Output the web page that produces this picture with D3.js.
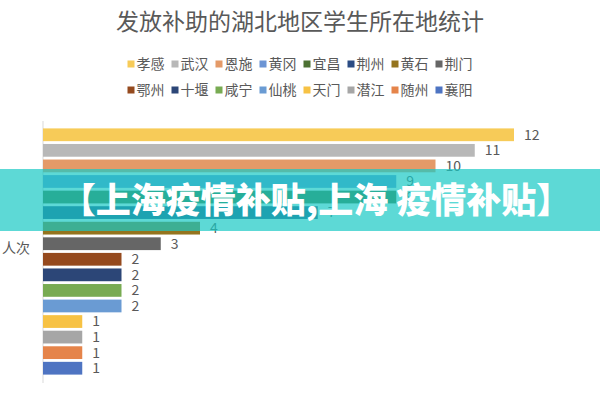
<!DOCTYPE html>
<html>
<head>
<meta charset="utf-8">
<script src="https://cdn.jsdelivr.net/npm/d3@7"></script>
<style>
  body { margin: 0; background: #fff; }
  text { font-family: "Noto Sans CJK SC", "Noto Sans", sans-serif; }
</style>
</head>
<body>
<script>
// 数据
const cities = ["孝感", "武汉", "恩施", "黄冈", "宜昌", "荆州", "黄石", "荆门",
                "鄂州", "十堰", "咸宁", "仙桃", "天门", "潜江", "随州", "襄阳"]
const counts = [12, 11, 10, 9, 9, 7, 4, 3, 2, 2, 2, 2, 1, 1, 1, 1]
const colors = ["#f7cb58", "#b8b8b8", "#e49a68", "#6c94d4", "#4c7133", "#2b4c84", "#94741e", "#666666",
                "#954a1e", "#2c4677", "#78ab52", "#6a9bd3", "#f7c244", "#a6a6a6", "#e5844a", "#4e74c2"]
const title = "发放补助的湖北地区学生所在地统计"
const yLabel = "人次"
const banner = "【上海疫情补贴,上海 疫情补贴】"

const width = 600, height = 400

let svg = d3.select("body")
    .append("svg")
    .attr("width", width)
    .attr("height", height)

// 标题
svg.append("text")
    .attr("x", 300)
    .attr("y", 30)
    .attr("text-anchor", "middle")
    .attr("font-size", 23)
    .attr("fill", "#595959")
    .text(title)

// 图例, 两行每行8个
let itemW = 44
let legend = svg.append("g")
legend.selectAll("g")
    .data(cities)
    .enter()
    .append("g")
    .attr("transform", (d, i) => {
        let row = Math.floor(i / 8), col = i % 8
        let x0 = 300 - (8 * itemW - 7) / 2
        return "translate(" + (x0 + col * itemW) + "," + (64 + row * 26) + ")"
    })
    .each(function (d, i) {
        let g = d3.select(this)
        g.append("rect")
            .attr("x", 0).attr("y", -3.5)
            .attr("width", 7).attr("height", 7)
            .attr("fill", colors[i])
        g.append("text")
            .attr("x", 9)
            .attr("dy", "0.35em")
            .attr("font-size", 14)
            .attr("fill", "#595959")
            .text(d)
    })

// 坐标
let x = d3.scaleLinear()
    .domain([0, 12])
    .range([43, 514])

let y = d3.scaleBand()
    .domain(cities)
    .range([127, 376])
    .paddingInner(0.18)
    .paddingOuter(0.09)

svg.append("line")
    .attr("x1", x(0)).attr("x2", x(0))
    .attr("y1", 121).attr("y2", 383)
    .attr("stroke", "#d9d9d9")

svg.append("text")
    .attr("x", 2)
    .attr("y", 248)
    .attr("dy", "0.35em")
    .attr("font-size", 14)
    .attr("fill", "#595959")
    .text(yLabel)

// 柱子
svg.append("g")
    .selectAll("rect")
    .data(cities)
    .enter()
    .append("rect")
    .attr("x", x(0))
    .attr("y", d => y(d))
    .attr("width", (d, i) => x(counts[i]) - x(0))
    .attr("height", y.bandwidth())
    .attr("fill", (d, i) => colors[i])

svg.append("g")
    .selectAll("text")
    .data(cities)
    .enter()
    .append("text")
    .attr("x", (d, i) => x(counts[i]) + 10)
    .attr("y", d => y(d) + y.bandwidth() / 2)
    .attr("dy", "0.35em")
    .attr("font-size", 14)
    .attr("fill", "#595959")
    .text((d, i) => counts[i])

// 横幅
svg.append("rect")
    .attr("x", 0).attr("y", 169)
    .attr("width", width).attr("height", 62)
    .attr("fill", "#18c9c4")
    .attr("opacity", 0.7)

svg.append("text")
    .attr("x", 316)
    .attr("y", 200)
    .attr("dy", "0.36em")
    .attr("text-anchor", "middle")
    .attr("font-size", 35)
    .attr("font-weight", 900)
    .attr("fill", "#fff")
    .text(banner)
</script>
</body>
</html>
